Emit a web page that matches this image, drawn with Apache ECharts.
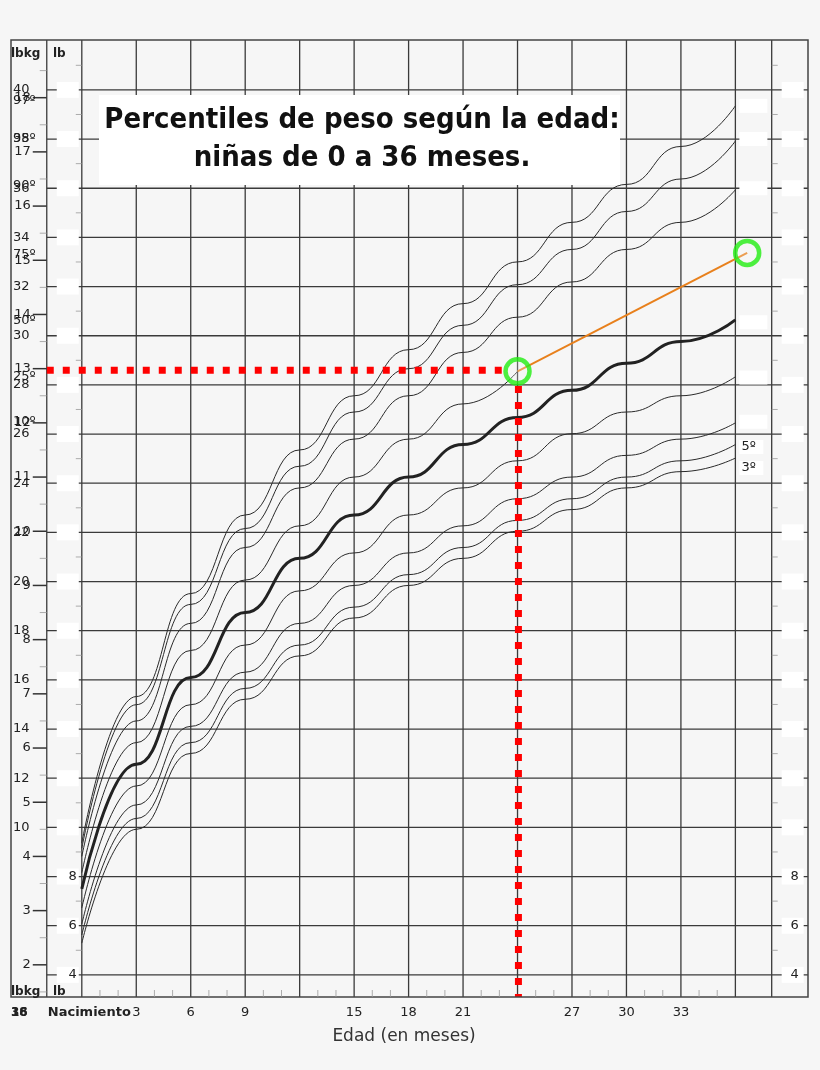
<!DOCTYPE html>
<html><head><meta charset="utf-8">
<script src="https://cdn.jsdelivr.net/npm/echarts@6/dist/echarts.min.js"></script>
<style>html,body{margin:0;padding:0;background:#f6f6f6}#c{width:820px;height:1070px}</style>
</head><body><div id="c"></div>
<script>
// ---- data ----
const months = [0,3,6,9,12,15,18,21,24,27,30,33,36];
const monthLabels = [3,6,9,15,18,21,27,30,33];
const lbTicks = [4,6,8,10,12,14,16,18,20,22,24,26,28,30,32,34,36,38,40];
const kgTicks = [2,3,4,5,6,7,8,9,10,11,12,13,14,15,16,17,18];
// weight in kg
const p3  = [2.4,4.5,5.9,6.9,7.7,8.4,9.0,9.5,10.0,10.4,10.8,11.1,11.35];
const p5  = [2.55,4.7,6.1,7.1,7.9,8.6,9.2,9.7,10.2,10.6,11.0,11.3,11.6];
const p10 = [2.75,4.95,6.4,7.4,8.3,9.0,9.6,10.1,10.6,11.0,11.4,11.7,12.0];
const p25 = [3.05,5.3,6.8,7.9,8.9,9.6,10.3,10.8,11.3,11.8,12.2,12.5,12.85];
const p50 = [3.4,5.7,7.3,8.5,9.5,10.3,11.0,11.6,12.1,12.6,13.1,13.5,13.9];
const p75 = [3.7,6.1,7.8,9.1,10.1,11.0,11.7,12.35,12.95];
const p90 = [4.0,6.5,8.3,9.7,10.8,11.7,12.5,13.3,13.95,14.6,15.2,15.7,16.3];
const p95 = [4.15,6.8,8.65,10.05,11.2,12.2,13.0,13.8,14.55,15.2,15.9,16.5,17.2];
const p97 = [4.25,6.95,8.85,10.3,11.5,12.5,13.35,14.2,14.97,15.7,16.4,17.1,17.85];
const leftPct = [['97º',39.55],['95º',38.0],['90º',36.1],['75º',33.3],['50º',30.6],['25º',28.35],['10º',26.5]];
const endBoxes = [39.35,38.0,36.0,30.55,28.3,26.5];
const childA = [24,28.55], childB = [36.65,33.37];
const LB = 2.20462;
const X0 = -1.93, XR = 38, XMAX = 40, YMIN = 3.1, YMAX = 42.03;

const toLb = a => a.map((v,i)=>[months[i], v*LB]);
const chart = echarts.init(document.getElementById('c'));
const series = [];
const gridCol = '#3a3a3a';
lbTicks.forEach(v=>series.push({type:'line',data:[[X0,v],[XMAX,v]],symbol:'none',silent:true,lineStyle:{color:gridCol,width:1.3},z:1}));
[X0].concat(months, [XR]).forEach(m=>series.push({type:'line',data:[[m,YMIN],[m,YMAX]],symbol:'none',silent:true,lineStyle:{color:gridCol,width:1.3},z:1}));
const curve = (p,w,c,z)=>series.push({type:'line',data:toLb(p),smooth:true,smoothMonotone:'x',symbol:'none',lineStyle:{color:c,width:w},z});
[p3,p5,p10,p25,p75,p90,p95,p97].forEach(p=>curve(p,1,'#2a2a2a',3));
curve(p50,3,'#222',4);
series.push({type:'line',data:[[X0,28.6],[23.2,28.6]],symbol:'none',lineStyle:{color:'#ff0000',width:7,type:[7,9]},z:5});
series.push({type:'line',data:[[24.05,27.95],[24.05,YMIN]],symbol:'none',lineStyle:{color:'#ff0000',width:7,type:[7,9]},z:5});
series.push({type:'line',data:[childA,childB],symbol:'none',lineStyle:{color:'#e8801c',width:2},z:6});
series.push({type:'scatter',data:[childA,childB],symbol:'circle',symbolSize:24,itemStyle:{color:'rgba(246,246,246,0.3)',borderColor:'#22ee11',borderWidth:4.5},z:7});

chart.setOption({
  animation:false,
  backgroundColor:'#f6f6f6',
  grid:{left:11,right:12,top:40,bottom:73},
  xAxis:{type:'value',min:-3.9,max:XMAX,show:false},
  yAxis:{type:'value',min:YMIN,max:YMAX,show:false},
  series
});

const P = (x,y)=>chart.convertToPixel({gridIndex:0},[x,y]);
const g = [];
const txt = (x,y,t,o)=>g.push({type:'text',x,y,z:20,style:Object.assign({text:t,fill:'#222',font:'13px "DejaVu Sans"',textVerticalAlign:'middle'},o||{})});
const rect = (x,y,w,h,fill)=>g.push({type:'rect',z:15,shape:{x,y,width:w,height:h},style:{fill:fill||'#fff'}});
const seg = (x1,y1,x2,y2,w,c)=>g.push({type:'line',z:16,shape:{x1,y1,x2,y2},style:{stroke:c||'#333',lineWidth:w||1.3}});
const xL = P(X0,0)[0], x0 = P(0,0)[0], x36 = P(36,0)[0], xR = P(XR,0)[0], xM = P(XMAX,0)[0];
const yT = P(0,YMAX)[1], yB = P(0,YMIN)[1];
g.push({type:'rect',z:16,shape:{x:11,y:yT,width:xM-11,height:yB-yT},style:{fill:'none',stroke:'#444',lineWidth:1.5}});
kgTicks.forEach(k=>{const y=P(0,k*LB)[1]; seg(xL-14,y,xL,y,1.5); txt(xL-16,y,String(k),{textAlign:'right'});});
for(let k=1.5;k<19;k+=0.5){ if(Math.abs(k-Math.round(k))<0.01) continue; const y=P(0,k*LB)[1]; if(y>yT+5&&y<yB-5) seg(xL-7,y,xL,y,0.8,'#999');}
for(let v=5;v<=41;v+=2){ const y=P(0,v)[1]; if(y<yB-3){ seg(x0-6,y,x0,y,0.8,'#999'); seg(xR,y,xR+6,y,0.8,'#999');} }
lbTicks.filter(v=>v>=10).forEach(v=>txt(13,P(0,v)[1],String(v),{textAlign:'left'}));
leftPct.forEach(([t,v])=>txt(13,P(0,v)[1],t,{textAlign:'left'}));
lbTicks.forEach(v=>{const y=P(0,v)[1];
  rect(xL+10,y-8,22,16); rect(xR+10,y-8,22,16);
  if(v<=8){ txt(xL+30,y,String(v),{textAlign:'right'}); txt(xR+27,y,String(v),{textAlign:'right'}); }
});
endBoxes.forEach(v=>{const y=P(0,v)[1]; rect(x36+4,y-7,28,14);});
[['5º',p5[12]*LB-0.1],['3º',p3[12]*LB-0.4]].forEach(([t,v])=>{const y=P(0,v)[1]; rect(x36+4,y-7,24,14); txt(x36+6,y,t,{textAlign:'left'});});
for(let m=1;m<36;m++){ if(m%3===0) continue; const x=P(m,0)[0]; seg(x,yB-7,x,yB,0.8,'#999'); }
[yT+14, yB-5].forEach(y=>{txt(11,y,'lbkg',{font:'bold 12px "DejaVu Sans"',textAlign:'left'}); txt(53,y,'lb',{font:'bold 12px "DejaVu Sans"',textAlign:'left'});});
txt(11,1013,'18',{font:'bold 12px "DejaVu Sans"',textAlign:'left'});
txt(11,1013,'36',{font:'bold 12px "DejaVu Sans"',textAlign:'left'});
txt(x0-34,1013,'Nacimiento',{font:'bold 13px "DejaVu Sans"',textAlign:'left'});
monthLabels.forEach(m=>txt(P(m,0)[0],1013,String(m),{textAlign:'center'}));
txt(404,1037,'Edad (en meses)',{font:'17px "DejaVu Sans"',textAlign:'center',fill:'#333'});
rect(99,95,521,90,'#fff');
txt(362,120,'Percentiles de peso según la edad:',{font:'bold 29px "DejaVu Sans Condensed","DejaVu Sans"',textAlign:'center',fill:'#111'});
txt(362,158,'niñas de 0 a 36 meses.',{font:'bold 29px "DejaVu Sans Condensed","DejaVu Sans"',textAlign:'center',fill:'#111'});
chart.setOption({graphic:g});
</script></body></html>
